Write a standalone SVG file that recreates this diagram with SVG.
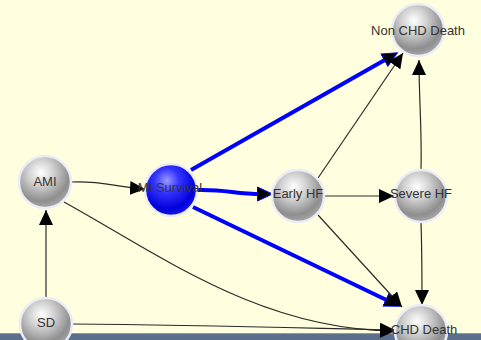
<svg xmlns="http://www.w3.org/2000/svg" width="481" height="340" viewBox="0 0 481 340">
<style>
.edge{fill:none;stroke:#2a2a2a;stroke-width:1.2}
.blue{fill:none;stroke:#0000ff;stroke-width:4}
.ball{fill:url(#gray);stroke:#ececf6;stroke-width:2.5}
.bball{fill:url(#bl);stroke:#ececf6;stroke-width:2.5}
.lbl{font-family:"Liberation Sans",Arial,sans-serif;font-size:13px;fill:#333;text-anchor:middle}
</style>
<defs>
<radialGradient id="gray" cx="42%" cy="32%" r="68%">
<stop offset="0" stop-color="#ffffff"/>
<stop offset="0.35" stop-color="#d2d2d2"/>
<stop offset="0.8" stop-color="#8e8e8e"/>
<stop offset="1" stop-color="#a6a6a6"/>
</radialGradient>
<radialGradient id="bl" cx="42%" cy="32%" r="68%">
<stop offset="0" stop-color="#9a9aff"/>
<stop offset="0.35" stop-color="#3434ff"/>
<stop offset="0.8" stop-color="#0000dc"/>
<stop offset="1" stop-color="#1818e6"/>
</radialGradient>
<marker id="ah" markerUnits="userSpaceOnUse" markerWidth="16" markerHeight="14" refX="15" refY="7" orient="auto">
<path d="M0,0 L15,7 L0,14 z" fill="#000"/>
</marker>
<marker id="ahb" markerUnits="userSpaceOnUse" markerWidth="17" markerHeight="16" refX="4" refY="8" orient="auto">
<path d="M0.5,1 L15.5,8 L0.5,15 z" fill="#000" stroke="#0000ff" stroke-width="1"/>
</marker>
</defs>
<rect x="0" y="0" width="481" height="340" fill="#ffffe0"/>
<rect x="0" y="333" width="481" height="7" fill="#5b6f8d"/>
<rect x="0" y="333" width="481" height="1" fill="#8a9ab0"/>
<g id="connectors">
<path class="edge" d="M72,182 C105,181 115,187 145,189" marker-end="url(#ah)"/>
<path class="edge" d="M64,202 C160,255 260,330 395,331" marker-end="url(#ah)"/>
<path class="edge" d="M46,297 L46,210" marker-end="url(#ah)"/>
<path class="edge" d="M72,324 C200,325 300,328 395,330" marker-end="url(#ah)"/>
<path class="blue" d="M191,170 L387.4,58.4" marker-end="url(#ahb)"/>
<path class="blue" d="M197,190 C225,189 235,194 261,194" marker-end="url(#ahb)"/>
<path class="blue" d="M193,207 L389.1,301.2" marker-end="url(#ahb)"/>
<path class="edge" d="M318,178 L403,53" marker-end="url(#ah)"/>
<path class="edge" d="M325,196 L394,196" marker-end="url(#ah)"/>
<path class="edge" d="M318,215 L402,307" marker-end="url(#ah)"/>
<path class="edge" d="M421,169 C422,130 419,100 419,60" marker-end="url(#ah)"/>
<path class="edge" d="M421,223 C422,250 422,280 422,305" marker-end="url(#ah)"/>
</g>
<g id="node-nonchd"><circle class="ball" cx="418" cy="30" r="26"/><text class="lbl" x="418" y="35">Non CHD Death</text></g>
<g id="node-ami"><circle class="ball" cx="45" cy="182" r="26"/><text class="lbl" x="45" y="186">AMI</text></g>
<g id="node-misurvival"><circle class="bball" cx="171" cy="190" r="26"/><text class="lbl" x="170" y="192">MI Survival</text></g>
<g id="node-earlyhf"><circle class="ball" cx="298" cy="196" r="26"/><text class="lbl" x="298" y="198">Early HF</text></g>
<g id="node-severehf"><circle class="ball" cx="421" cy="196" r="26"/><text class="lbl" x="421" y="198">Severe HF</text></g>
<g id="node-sd"><circle class="ball" cx="46" cy="324" r="26"/><text class="lbl" x="46" y="327">SD</text></g>
<g id="node-chd"><circle class="ball" cx="421" cy="331" r="26"/><text class="lbl" x="424" y="334">CHD Death</text></g>
</svg>
